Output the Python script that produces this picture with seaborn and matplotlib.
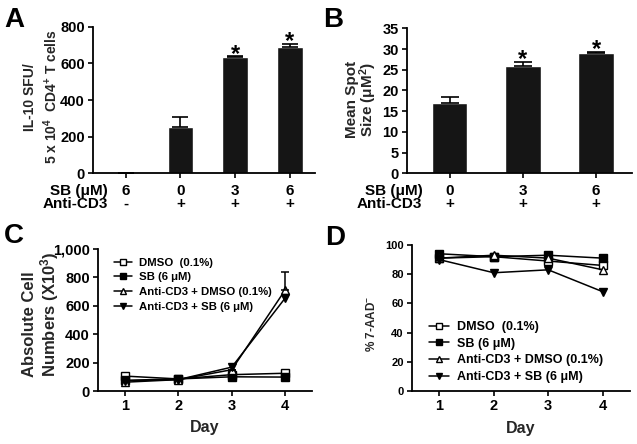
import matplotlib
matplotlib.use('Agg')
import matplotlib.pyplot as plt
import seaborn as sns

# ---- panel A: IL-10 spot forming units ----
a_sb = ['6', '0', '3', '6']
a_cd3 = ['-', '+', '+', '+']
a_sfu = [0, 250, 632, 690]
a_err = [0, 58, 6, 18]
a_sig = [False, False, True, True]
a_yticks = [0, 200, 400, 600, 800]

# ---- panel B: mean spot size ----
b_sb = ['0', '3', '6']
b_cd3 = ['+', '+', '+']
b_size = [17.0, 26.0, 29.0]
b_err = [1.3, 0.8, 0.25]
b_sig = [False, True, True]
b_yticks = [0, 5, 10, 15, 20, 25, 30, 35]

# ---- panels C and D: time course ----
days = [1, 2, 3, 4]
labels = ['DMSO  (0.1%)', 'SB (6 μM)', 'Anti-CD3 + DMSO (0.1%)', 'Anti-CD3 + SB (6 μM)']

c_dmso = [105, 85, 115, 125]
c_sb = [75, 85, 100, 98]
c_cd3_dmso = [62, 80, 150, 712]
c_cd3_sb = [72, 80, 168, 655]
c_cd3_dmso_err = [0, 0, 0, 128]
c_yticks = [0, 200, 400, 600, 800, 1000]

d_dmso = [91, 92, 89, 86]
d_sb = [94, 92, 93, 91]
d_cd3_dmso = [91, 93, 91, 83]
d_cd3_sb = [90, 81, 83, 68]
d_yticks = [0, 20, 40, 60, 80, 100]

sns.set_style('ticks')
plt.rcParams['font.family'] = ['Liberation Sans', 'DejaVu Sans']
plt.rcParams['font.weight'] = 'bold'
plt.rcParams['axes.labelweight'] = 'bold'
plt.rcParams['mathtext.fontset'] = 'custom'
plt.rcParams['mathtext.rm'] = 'Liberation Sans:bold'
plt.rcParams['mathtext.it'] = 'Liberation Sans:bold'
plt.rcParams['mathtext.bf'] = 'Liberation Sans:bold'
plt.rcParams['mathtext.sf'] = 'Liberation Sans:bold'
plt.rcParams['text.color'] = 'black'
plt.rcParams['xtick.color'] = 'black'
plt.rcParams['ytick.color'] = 'black'
plt.rcParams['axes.edgecolor'] = 'black'

W, H = 637, 444
fig = plt.figure(figsize=(W / 100, H / 100), dpi=100)


def px_axes(left, right, top, bottom):
    return fig.add_axes([left / W, 1 - bottom / H, (right - left) / W, (bottom - top) / H])


def style(ax, size=10.5):
    sns.despine(ax=ax)
    for s in ['left', 'bottom']:
        ax.spines[s].set_linewidth(1.3)
    ax.tick_params(direction='out', length=3.5, width=1.2, labelsize=size, pad=2.5)


BAR = '#151515'


def bar_panel(ax, sb, cd3, vals, errs, sig, yticks, width, capsize, xlim, rowx):
    xl = [f'{s}\n{c}' for s, c in zip(sb, cd3)]
    sns.barplot(x=xl, y=vals, color=BAR, saturation=1, width=width, errorbar=None, ax=ax)
    pos = list(range(len(vals)))
    ax.errorbar(pos, vals, yerr=[[0] * len(vals), errs], fmt='none', ecolor='black',
                elinewidth=1.2, capsize=capsize, capthick=1.2)
    for p, v, e, s in zip(pos, vals, errs, sig):
        if s:
            ax.annotate('*', xy=(p, v + e), xytext=(0, -3), textcoords='offset points',
                        ha='center', va='baseline', fontsize=17, fontweight='bold')
    ax.set_ylim(0, yticks[-1])
    ax.set_yticks(yticks)
    ax.set_xlim(*xlim)
    style(ax)
    ax.tick_params(axis='x', pad=4)
    ax.set_xticks(pos)
    ax.set_xticklabels(xl, linespacing=0.9, fontsize=11)
    ax.annotate('SB (μM)\nAnti-CD3', xy=(rowx, 0), xycoords=('data', 'axes fraction'),
                xytext=(0, -7.5), textcoords='offset points', ha='right', va='top',
                fontsize=11, fontweight='bold', linespacing=0.9)


# A
axA = px_axes(93, 315, 26.7, 173.3)
bar_panel(axA, a_sb, a_cd3, a_sfu, a_err, a_sig, a_yticks, 0.47, 5.6, (-0.6, 3.46), -0.33)
axA.set_ylabel('IL-10 SFU/\n5 x 10$^{4}$  CD4$^{+}$ T cells', fontsize=10,
               multialignment='center', linespacing=1.3)
axA.yaxis.set_label_coords(-0.148, 0.52)

# B
axB = px_axes(407, 632, 28.3, 173.3)
bar_panel(axB, b_sb, b_cd3, b_size, b_err, b_sig, b_yticks, 0.49, 6.5, (-0.58, 2.49), -0.37)
axB.set_ylabel('Mean Spot\nSize (μM$^{2}$)', fontsize=11, multialignment='center',
               linespacing=0.92)
axB.yaxis.set_label_coords(-0.125, 0.51)


def line_panel(ax, series, legend_loc, legend_anchor, legend_size, legend_space):
    markers = ['s', 's', '^', 'v']
    faces = ['white', 'black', 'white', 'black']
    for vals, lab, m, fc in zip(series, labels, markers, faces):
        sns.lineplot(x=days, y=vals, marker=m, color='black', markerfacecolor=fc,
                     markeredgecolor='black', markeredgewidth=1.0, markersize=5.5,
                     linewidth=1.1, label=lab, ax=ax)
    ax.set_xlim(0.5, 4.5)
    ax.set_xticks(days)
    ax.set_xlabel('Day', fontsize=11.5)
    ax.xaxis.set_label_coords(0.5, -0.205)
    ax.legend(loc=legend_loc, bbox_to_anchor=legend_anchor, frameon=False,
              fontsize=legend_size, handlelength=1.6, handletextpad=0.6,
              labelspacing=legend_space, borderaxespad=0, borderpad=0, markerscale=0.9)


# C
axC = px_axes(98, 312, 249, 391)
line_panel(axC, [c_dmso, c_sb, c_cd3_dmso, c_cd3_sb], 'upper left', (0.075, 0.94), 8.2, 0.43)
axC.errorbar(days, c_cd3_dmso, yerr=[[0] * 4, c_cd3_dmso_err], fmt='none', ecolor='black',
             elinewidth=1.1, capsize=3, capthick=1.1)
axC.set_ylim(0, 1000)
axC.set_yticks(c_yticks)
axC.set_yticklabels([f'{v:,}' for v in c_yticks])
style(axC)
axC.set_ylabel('Absolute Cell\nNumbers (X10$^{3}$)', fontsize=12, multialignment='left',
               linespacing=1.05)
axC.yaxis.set_label_coords(-0.175, 0.54)

# D
axD = px_axes(412, 630, 245, 391)
line_panel(axD, [d_dmso, d_sb, d_cd3_dmso, d_cd3_sb], 'lower left', (0.078, 0.055), 9, 0.37)
axD.set_ylim(0, 100)
axD.set_yticks(d_yticks)
style(axD)
axD.tick_params(axis='y', labelsize=8)
axD.set_ylabel('% 7-AAD$^{-}$', fontsize=8.5)
axD.yaxis.set_label_coords(-0.155, 0.46)

for letter, x, y in [('A', 4, 27), ('B', 323, 27), ('C', 4, 243), ('D', 325, 245)]:
    fig.text(x / W, 1 - y / H, letter, fontsize=20, fontweight='bold', va='baseline')

fig.savefig('out.png', dpi=100)
